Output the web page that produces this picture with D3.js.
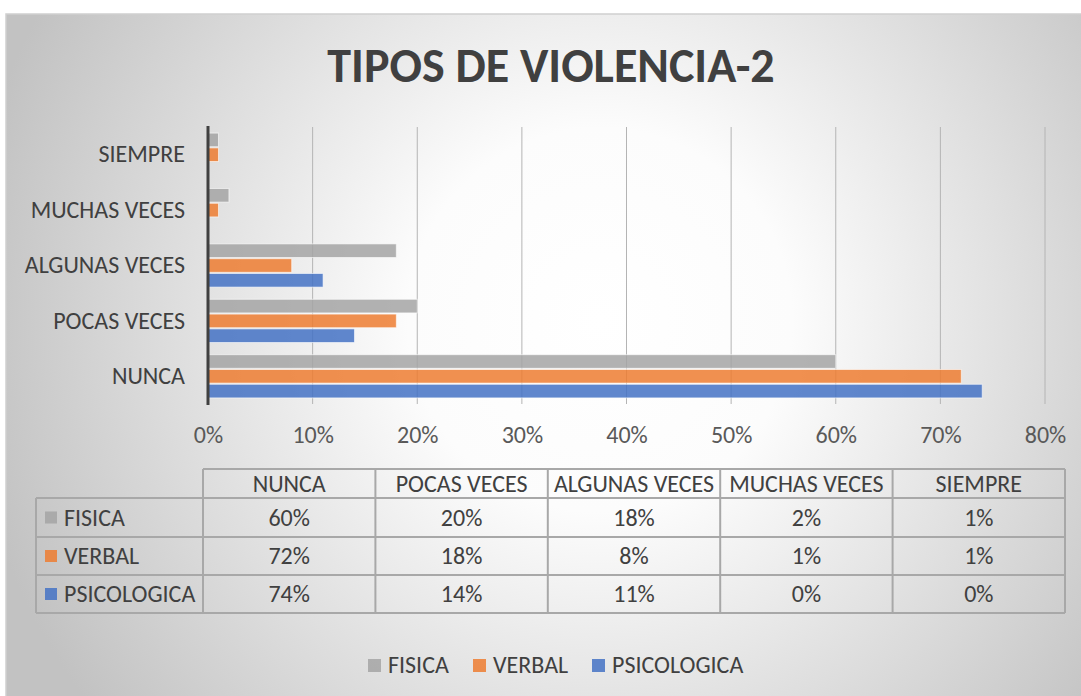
<!DOCTYPE html>
<html>
<head>
<meta charset="utf-8">
<script src="https://cdn.jsdelivr.net/npm/d3@7"></script>
<style>
  html, body { margin: 0; padding: 0; background: #ffffff; }
  svg { display: block; }
  text { font-family: Carlito, Calibri, Lato, sans-serif; }
</style>
</head>
<body>
<svg id="chart" width="1081" height="696"></svg>
<script>
// ---- data ----
const categories = ["NUNCA", "POCAS VECES", "ALGUNAS VECES", "MUCHAS VECES", "SIEMPRE"];
const seriesNames = ["FISICA", "VERBAL", "PSICOLOGICA"];
const fisica = [60, 20, 18, 2, 1];
const verbal = [72, 18, 8, 1, 1];
const psicologica = [74, 14, 11, 0, 0];
const seriesColors = ["#a5a5a5", "#ed7d31", "#4472c4"];
const xTicks = [0, 10, 20, 30, 40, 50, 60, 70, 80];
const title = "TIPOS DE VIOLENCIA-2";

const seriesValues = [fisica, verbal, psicologica];

const W = 1081, H = 696;
const FONT = "Carlito, Calibri, Lato, sans-serif";
const FS = 24;
const svg = d3.select("#chart");

// background gradient
const defs = svg.append("defs");
const grad = defs.append("radialGradient")
  .attr("id", "bg").attr("gradientUnits", "userSpaceOnUse")
  .attr("cx", 600).attr("cy", 320).attr("r", 640);
grad.append("stop").attr("offset", "0").attr("stop-color", "#ffffff");
grad.append("stop").attr("offset", "0.3").attr("stop-color", "#fcfcfc");
grad.append("stop").attr("offset", "1").attr("stop-color", "#c2c2c2");

svg.append("rect").attr("x", 6).attr("y", 14).attr("width", W).attr("height", H)
  .attr("fill", "url(#bg)").attr("stroke", "#d0d0d0").attr("stroke-width", 1.5);

// title
svg.append("text").attr("x", 551).attr("y", 82).attr("text-anchor", "middle")
  .attr("font-size", 48).attr("font-weight", "bold").attr("fill", "#404040")
  .text(title);

// scales
const x = d3.scaleLinear().domain([0, 80]).range([208, 1045]);
const y = d3.scaleBand().domain(categories.slice().reverse()).range([127, 404])
  .paddingInner(0.22).paddingOuter(0.11);
const ys = d3.scaleBand().domain(seriesNames).range([0, y.bandwidth()]).paddingInner(0.08);

// gridlines
const g = svg.append("g");
g.selectAll("line.grid").data(xTicks.filter(t => t > 0)).enter().append("line")
  .attr("class", "grid")
  .attr("x1", d => x(d)).attr("x2", d => x(d))
  .attr("y1", 127).attr("y2", 404)
  .attr("stroke", "#b4b4b4").attr("stroke-width", 1);

// bars
seriesNames.forEach((s, si) => {
  g.selectAll("rect.s" + si).data(categories).enter().append("rect")
    .attr("class", "s" + si)
    .attr("x", x(0))
    .attr("y", (c) => y(c) + ys(s))
    .attr("width", (c, i) => x(seriesValues[si][i]) - x(0))
    .attr("height", ys.bandwidth())
    .attr("fill", seriesColors[si]).attr("fill-opacity", 0.85)
    .attr("stroke", "#ffffff").attr("stroke-opacity", 0.6).attr("stroke-width", 1);
});

// x axis (labels only)
const xAxis = d3.axisBottom(x).tickValues(xTicks).tickFormat(d => d + "%").tickSize(0).tickPadding(22);
const xg = svg.append("g").attr("transform", "translate(0,404)").call(xAxis);
xg.select(".domain").remove();
xg.selectAll("text").attr("font-size", FS).attr("fill", "#595959").style("font-family", FONT);

// y axis
const yAxis = d3.axisLeft(y).tickSize(0).tickPadding(23);
const yg = svg.append("g").attr("transform", "translate(208,0)").call(yAxis);
yg.select(".domain").remove();
yg.selectAll("text").attr("font-size", FS).attr("fill", "#404040").style("font-family", FONT);
svg.append("line").attr("x1", 208).attr("x2", 208).attr("y1", 126).attr("y2", 405)
  .attr("stroke", "#404040").attr("stroke-width", 3);

// data table
const colX = d3.scaleBand().domain(categories).range([203, 1065]);
const rowY = [469, 498, 537, 575, 613];
const tLeft = 36;
const tg = svg.append("g");
const lc = "#a8a8a8";
tg.append("line").attr("x1", 203).attr("x2", 1065).attr("y1", rowY[0]).attr("y2", rowY[0]).attr("stroke", lc).attr("stroke-width", 2);
for (let r = 1; r < rowY.length; r++) {
  tg.append("line").attr("x1", tLeft).attr("x2", 1065).attr("y1", rowY[r]).attr("y2", rowY[r]).attr("stroke", lc).attr("stroke-width", 2);
}
tg.append("line").attr("x1", tLeft).attr("x2", tLeft).attr("y1", rowY[1]).attr("y2", rowY[4]).attr("stroke", lc).attr("stroke-width", 2);
categories.forEach(c => {
  tg.append("line").attr("x1", colX(c)).attr("x2", colX(c)).attr("y1", rowY[0]).attr("y2", rowY[4]).attr("stroke", lc).attr("stroke-width", 2);
});
tg.append("line").attr("x1", 1065).attr("x2", 1065).attr("y1", rowY[0]).attr("y2", rowY[4]).attr("stroke", lc).attr("stroke-width", 2);

tg.selectAll("text.hdr").data(categories).enter().append("text")
  .attr("x", c => colX(c) + colX.bandwidth() / 2).attr("y", (rowY[0] + rowY[1]) / 2 + 8)
  .attr("text-anchor", "middle").attr("font-size", FS).attr("fill", "#404040").text(c => c);

seriesNames.forEach((s, si) => {
  const cy = (rowY[si + 1] + rowY[si + 2]) / 2;
  tg.append("rect").attr("x", 45).attr("y", cy - 6).attr("width", 12).attr("height", 12)
    .attr("fill", seriesColors[si]).attr("fill-opacity", 0.85);
  tg.append("text").attr("x", 64).attr("y", cy + 8).attr("font-size", FS).attr("fill", "#404040").text(s);
  tg.selectAll("text.v" + si).data(categories).enter().append("text")
    .attr("x", c => colX(c) + colX.bandwidth() / 2).attr("y", cy + 8)
    .attr("text-anchor", "middle").attr("font-size", FS).attr("fill", "#404040")
    .text((c, i) => seriesValues[si][i] + "%");
});

// legend
const legX = [368, 473, 592];
const lg = svg.append("g");
seriesNames.forEach((s, si) => {
  lg.append("rect").attr("x", legX[si]).attr("y", 659).attr("width", 13).attr("height", 13)
    .attr("fill", seriesColors[si]).attr("fill-opacity", 0.85);
  lg.append("text").attr("x", legX[si] + 20).attr("y", 673).attr("font-size", FS).attr("fill", "#404040").text(s);
});
</script>
</body>
</html>
